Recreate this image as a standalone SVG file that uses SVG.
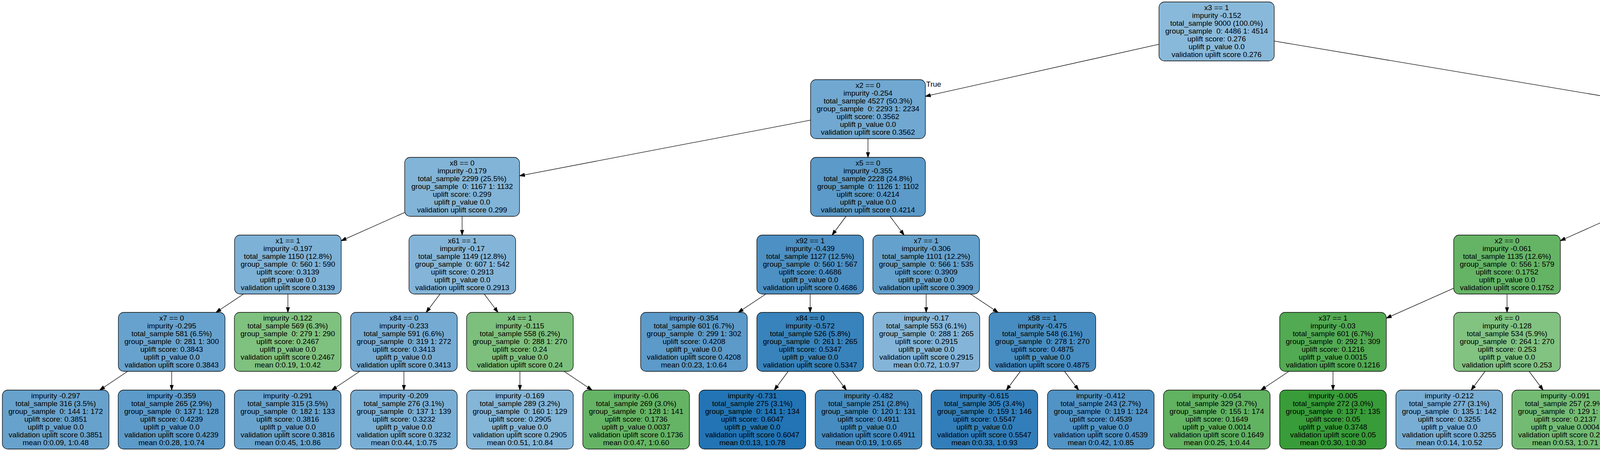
<svg xmlns="http://www.w3.org/2000/svg" width="6683" height="1155" viewBox="0 0 6683 1155" xml:space="preserve">
<defs>
<marker id="arr" markerUnits="userSpaceOnUse" markerWidth="14" markerHeight="10" viewBox="0 0 14 10" refX="13.5" refY="5" orient="auto"><path d="M0,0.3 L14,5 L0,9.7 Z" fill="#000" stroke="#000" stroke-width="1"/></marker>
</defs>
<style>
.node rect{stroke:#000;stroke-width:1.3}
text{font-family:"Liberation Sans",Arial,Helvetica,sans-serif;font-size:19px;fill:#000;white-space:pre}
.node text{text-anchor:middle}
#edges line{stroke:#000;stroke-width:1.3;marker-end:url(#arr)}
</style>
<rect width="6683" height="1155" fill="#fff"/>
<g id="edges">
<line x1="2967" y1="113.4" x2="2369" y2="246.7"/>
<line x1="3262" y1="105.2" x2="4156" y2="254.9"/>
<line x1="2075" y1="307.7" x2="1330" y2="450.3"/>
<line x1="2222" y1="355" x2="2222" y2="403"/>
<line x1="1036" y1="544.1" x2="873.5" y2="616.6"/>
<line x1="1183" y1="554" x2="1183" y2="602"/>
<line x1="2165.8" y1="554" x2="2130.2" y2="602"/>
<line x1="2278.5" y1="554" x2="2314.5" y2="602"/>
<line x1="4303" y1="355" x2="4303" y2="403"/>
<line x1="4450" y1="301.3" x2="5500" y2="456.7"/>
<line x1="4156" y1="544.2" x2="3994.5" y2="616.5"/>
<line x1="4360.3" y1="554" x2="4396.7" y2="602"/>
<line x1="5647" y1="554" x2="5647" y2="602"/>
<line x1="5794" y1="543.9" x2="5957.5" y2="616.7"/>
<line x1="623.6" y1="753" x2="552.9" y2="800"/>
<line x1="737" y1="753" x2="737" y2="800"/>
<line x1="1126.5" y1="753" x2="1091" y2="800"/>
<line x1="1239.7" y1="753" x2="1274.8" y2="800"/>
<line x1="1960.6" y1="753" x2="1889.9" y2="800"/>
<line x1="2074" y1="753" x2="2074" y2="800"/>
<line x1="2371" y1="753" x2="2371" y2="800"/>
<line x1="2484.4" y1="753" x2="2555.1" y2="800"/>
<line x1="3721.5" y1="738.2" x2="3549" y2="814.8"/>
<line x1="3858" y1="753" x2="3858" y2="800"/>
<line x1="4454" y1="753" x2="4454" y2="800"/>
<line x1="4590.5" y1="738.2" x2="4763" y2="814.8"/>
<line x1="5591" y1="753" x2="5556" y2="800"/>
<line x1="5704" y1="753" x2="5739.5" y2="800"/>
<line x1="6094" y1="753" x2="6094" y2="800"/>
<line x1="6207" y1="753" x2="6277.5" y2="800"/>
<line x1="326.8" y1="951" x2="255.2" y2="999"/>
<line x1="439.5" y1="951" x2="439.5" y2="999"/>
<line x1="921.1" y1="951" x2="849.4" y2="999"/>
<line x1="1034" y1="951" x2="1034" y2="999"/>
<line x1="1331" y1="951" x2="1331" y2="999"/>
<line x1="1443.9" y1="951" x2="1515.6" y2="999"/>
<line x1="2017.8" y1="951" x2="1982.2" y2="999"/>
<line x1="2130.7" y1="951" x2="2166.8" y2="999"/>
<line x1="2612.2" y1="951" x2="2576.3" y2="999"/>
<line x1="2725.2" y1="951" x2="2761.3" y2="999"/>
<line x1="3299.6" y1="951" x2="3227.9" y2="999"/>
<line x1="3412.5" y1="951" x2="3412.5" y2="999"/>
<line x1="3801.8" y1="951" x2="3766.2" y2="999"/>
<line x1="3914.5" y1="951" x2="3950.5" y2="999"/>
<line x1="4397.1" y1="951" x2="4360.9" y2="999"/>
<line x1="4510" y1="951" x2="4545.5" y2="999"/>
<line x1="4899.5" y1="951" x2="4899.5" y2="999"/>
<line x1="5013.5" y1="951" x2="5086" y2="999"/>
<line x1="5500" y1="951" x2="5500" y2="999"/>
<line x1="5612.5" y1="951" x2="5684" y2="999"/>
<line x1="6334.3" y1="951" x2="6298.7" y2="999"/>
<line x1="6447.2" y1="951" x2="6483.3" y2="999"/>
<text x="2371" y="222">True</text>
<text x="4154" y="232" text-anchor="end">False</text>
</g>
<g id="n0" class="node"><rect x="2967" y="5" width="295" height="151" rx="14" fill="#89b9da"/><text y="26"><tspan x="3114.5">x3 == 1</tspan><tspan x="3114.5" dy="20">impurity -0.152</tspan><tspan x="3114.5" dy="20">total_sample 9000 (100.0%)</tspan><tspan x="3114.5" dy="20">group_sample  0: 4486 1: 4514</tspan><tspan x="3114.5" dy="20">uplift score: 0.276</tspan><tspan x="3114.5" dy="20">uplift p_value 0.0</tspan><tspan x="3114.5" dy="20">validation uplift score 0.276</tspan></text></g>
<g id="n1" class="node"><rect x="2075" y="204" width="294" height="151" rx="14" fill="#70a8d1"/><text y="225"><tspan x="2222">x2 == 0</tspan><tspan x="2222" dy="20">impurity -0.254</tspan><tspan x="2222" dy="20">total_sample 4527 (50.3%)</tspan><tspan x="2222" dy="20">group_sample  0: 2293 1: 2234</tspan><tspan x="2222" dy="20">uplift score: 0.3562</tspan><tspan x="2222" dy="20">uplift p_value 0.0</tspan><tspan x="2222" dy="20">validation uplift score 0.3562</tspan></text></g>
<g id="n2" class="node"><rect x="4156" y="204" width="294" height="151" rx="14" fill="#6eb86e"/><text y="225"><tspan x="4303">x4 == 0</tspan><tspan x="4303" dy="20">impurity -0.079</tspan><tspan x="4303" dy="20">total_sample 4473 (49.7%)</tspan><tspan x="4303" dy="20">group_sample  0: 2193 1: 2280</tspan><tspan x="4303" dy="20">uplift score: 0.1986</tspan><tspan x="4303" dy="20">uplift p_value 0.0</tspan><tspan x="4303" dy="20">validation uplift score 0.1986</tspan></text></g>
<g id="n3" class="node"><rect x="1036" y="403" width="294" height="151" rx="14" fill="#82b4d7"/><text y="424"><tspan x="1183">x8 == 0</tspan><tspan x="1183" dy="20">impurity -0.179</tspan><tspan x="1183" dy="20">total_sample 2299 (25.5%)</tspan><tspan x="1183" dy="20">group_sample  0: 1167 1: 1132</tspan><tspan x="1183" dy="20">uplift score: 0.299</tspan><tspan x="1183" dy="20">uplift p_value 0.0</tspan><tspan x="1183" dy="20">validation uplift score 0.299</tspan></text></g>
<g id="n4" class="node"><rect x="2075" y="403" width="294" height="151" rx="14" fill="#5b9ac9"/><text y="424"><tspan x="2222">x5 == 0</tspan><tspan x="2222" dy="20">impurity -0.355</tspan><tspan x="2222" dy="20">total_sample 2228 (24.8%)</tspan><tspan x="2222" dy="20">group_sample  0: 1126 1: 1102</tspan><tspan x="2222" dy="20">uplift score: 0.4214</tspan><tspan x="2222" dy="20">uplift p_value 0.0</tspan><tspan x="2222" dy="20">validation uplift score 0.4214</tspan></text></g>
<g id="n5" class="node"><rect x="4156" y="403" width="294" height="151" rx="14" fill="#4da74d"/><text y="424"><tspan x="4303">x1 == 1</tspan><tspan x="4303" dy="20">impurity -0.024</tspan><tspan x="4303" dy="20">total_sample 2245 (24.9%)</tspan><tspan x="4303" dy="20">group_sample  0: 1086 1: 1159</tspan><tspan x="4303" dy="20">uplift score: 0.1085</tspan><tspan x="4303" dy="20">uplift p_value 0.0</tspan><tspan x="4303" dy="20">validation uplift score 0.1085</tspan></text></g>
<g id="n6" class="node"><rect x="5500" y="403" width="294" height="151" rx="14" fill="#86b7d9"/><text y="424"><tspan x="5647">x7 == 0</tspan><tspan x="5647" dy="20">impurity -0.164</tspan><tspan x="5647" dy="20">total_sample 2228 (24.8%)</tspan><tspan x="5647" dy="20">group_sample  0: 1107 1: 1121</tspan><tspan x="5647" dy="20">uplift score: 0.2861</tspan><tspan x="5647" dy="20">uplift p_value 0.0</tspan><tspan x="5647" dy="20">validation uplift score 0.2861</tspan></text></g>
<g id="n7" class="node"><rect x="600.5" y="602" width="273" height="151" rx="14" fill="#7db1d6"/><text y="623"><tspan x="737">x1 == 1</tspan><tspan x="737" dy="20">impurity -0.197</tspan><tspan x="737" dy="20">total_sample 1150 (12.8%)</tspan><tspan x="737" dy="20">group_sample  0: 560 1: 590</tspan><tspan x="737" dy="20">uplift score: 0.3139</tspan><tspan x="737" dy="20">uplift p_value 0.0</tspan><tspan x="737" dy="20">validation uplift score 0.3139</tspan></text></g>
<g id="n8" class="node"><rect x="1047" y="602" width="273" height="151" rx="14" fill="#84b5d8"/><text y="623"><tspan x="1183.5">x61 == 1</tspan><tspan x="1183.5" dy="20">impurity -0.17</tspan><tspan x="1183.5" dy="20">total_sample 1149 (12.8%)</tspan><tspan x="1183.5" dy="20">group_sample  0: 607 1: 542</tspan><tspan x="1183.5" dy="20">uplift score: 0.2913</tspan><tspan x="1183.5" dy="20">uplift p_value 0.0</tspan><tspan x="1183.5" dy="20">validation uplift score 0.2913</tspan></text></g>
<g id="n9" class="node"><rect x="1937.5" y="602" width="273" height="151" rx="14" fill="#4d90c4"/><text y="623"><tspan x="2074">x92 == 1</tspan><tspan x="2074" dy="20">impurity -0.439</tspan><tspan x="2074" dy="20">total_sample 1127 (12.5%)</tspan><tspan x="2074" dy="20">group_sample  0: 560 1: 567</tspan><tspan x="2074" dy="20">uplift score: 0.4686</tspan><tspan x="2074" dy="20">uplift p_value 0.0</tspan><tspan x="2074" dy="20">validation uplift score 0.4686</tspan></text></g>
<g id="n10" class="node"><rect x="2234.5" y="602" width="273" height="151" rx="14" fill="#65a1cd"/><text y="623"><tspan x="2371">x7 == 1</tspan><tspan x="2371" dy="20">impurity -0.306</tspan><tspan x="2371" dy="20">total_sample 1101 (12.2%)</tspan><tspan x="2371" dy="20">group_sample  0: 566 1: 535</tspan><tspan x="2371" dy="20">uplift score: 0.3909</tspan><tspan x="2371" dy="20">uplift p_value 0.0</tspan><tspan x="2371" dy="20">validation uplift score 0.3909</tspan></text></g>
<g id="n11" class="node"><rect x="3721.5" y="602" width="273" height="151" rx="14" fill="#65b465"/><text y="623"><tspan x="3858">x2 == 0</tspan><tspan x="3858" dy="20">impurity -0.061</tspan><tspan x="3858" dy="20">total_sample 1135 (12.6%)</tspan><tspan x="3858" dy="20">group_sample  0: 556 1: 579</tspan><tspan x="3858" dy="20">uplift score: 0.1752</tspan><tspan x="3858" dy="20">uplift p_value 0.0</tspan><tspan x="3858" dy="20">validation uplift score 0.1752</tspan></text></g>
<g id="n12" class="node"><rect x="4317.5" y="602" width="273" height="151" rx="14" fill="#329932"/><text y="623"><tspan x="4454">x22 == 1</tspan><tspan x="4454" dy="20">impurity -0.002</tspan><tspan x="4454" dy="20">total_sample 1110 (12.3%)</tspan><tspan x="4454" dy="20">group_sample  0: 530 1: 580</tspan><tspan x="4454" dy="20">uplift score: 0.0291</tspan><tspan x="4454" dy="20">uplift p_value 0.2882</tspan><tspan x="4454" dy="20">validation uplift score 0.0291</tspan></text></g>
<g id="n13" class="node"><rect x="5510.5" y="602" width="273" height="151" rx="14" fill="#83b4d8"/><text y="623"><tspan x="5647">x1 == 1</tspan><tspan x="5647" dy="20">impurity -0.176</tspan><tspan x="5647" dy="20">total_sample 1131 (12.6%)</tspan><tspan x="5647" dy="20">group_sample  0: 542 1: 589</tspan><tspan x="5647" dy="20">uplift score: 0.2967</tspan><tspan x="5647" dy="20">uplift p_value 0.0</tspan><tspan x="5647" dy="20">validation uplift score 0.2967</tspan></text></g>
<g id="n14" class="node"><rect x="5957.5" y="602" width="273" height="151" rx="14" fill="#81b3d7"/><text y="623"><tspan x="6094">x41 == 0</tspan><tspan x="6094" dy="20">impurity -0.183</tspan><tspan x="6094" dy="20">total_sample 1097 (12.2%)</tspan><tspan x="6094" dy="20">group_sample  0: 565 1: 532</tspan><tspan x="6094" dy="20">uplift score: 0.3023</tspan><tspan x="6094" dy="20">uplift p_value 0.0</tspan><tspan x="6094" dy="20">validation uplift score 0.3023</tspan></text></g>
<g id="n15" class="node"><rect x="303" y="800" width="273" height="151" rx="14" fill="#67a2ce"/><text y="821"><tspan x="439.5">x7 == 0</tspan><tspan x="439.5" dy="20">impurity -0.295</tspan><tspan x="439.5" dy="20">total_sample 581 (6.5%)</tspan><tspan x="439.5" dy="20">group_sample  0: 281 1: 300</tspan><tspan x="439.5" dy="20">uplift score: 0.3843</tspan><tspan x="439.5" dy="20">uplift p_value 0.0</tspan><tspan x="439.5" dy="20">validation uplift score 0.3843</tspan></text></g>
<g id="n16" class="node"><rect x="600" y="800" width="273" height="151" rx="14" fill="#7fc17f"/><text y="821"><tspan x="736.5">impurity -0.122</tspan><tspan x="736.5" dy="20">total_sample 569 (6.3%)</tspan><tspan x="736.5" dy="20">group_sample  0: 279 1: 290</tspan><tspan x="736.5" dy="20">uplift score: 0.2467</tspan><tspan x="736.5" dy="20">uplift p_value 0.0</tspan><tspan x="736.5" dy="20">validation uplift score 0.2467</tspan><tspan x="736.5" dy="20">mean 0:0.19, 1:0.42</tspan></text></g>
<g id="n17" class="node"><rect x="897.5" y="800" width="273" height="151" rx="14" fill="#75abd3"/><text y="821"><tspan x="1034">x84 == 0</tspan><tspan x="1034" dy="20">impurity -0.233</tspan><tspan x="1034" dy="20">total_sample 591 (6.6%)</tspan><tspan x="1034" dy="20">group_sample  0: 319 1: 272</tspan><tspan x="1034" dy="20">uplift score: 0.3413</tspan><tspan x="1034" dy="20">uplift p_value 0.0</tspan><tspan x="1034" dy="20">validation uplift score 0.3413</tspan></text></g>
<g id="n18" class="node"><rect x="1194.5" y="800" width="273" height="151" rx="14" fill="#7dc07d"/><text y="821"><tspan x="1331">x4 == 1</tspan><tspan x="1331" dy="20">impurity -0.115</tspan><tspan x="1331" dy="20">total_sample 558 (6.2%)</tspan><tspan x="1331" dy="20">group_sample  0: 288 1: 270</tspan><tspan x="1331" dy="20">uplift score: 0.24</tspan><tspan x="1331" dy="20">uplift p_value 0.0</tspan><tspan x="1331" dy="20">validation uplift score 0.24</tspan></text></g>
<g id="n19" class="node"><rect x="1640" y="800" width="273" height="151" rx="14" fill="#5c9ac9"/><text y="821"><tspan x="1776.5">impurity -0.354</tspan><tspan x="1776.5" dy="20">total_sample 601 (6.7%)</tspan><tspan x="1776.5" dy="20">group_sample  0: 299 1: 302</tspan><tspan x="1776.5" dy="20">uplift score: 0.4208</tspan><tspan x="1776.5" dy="20">uplift p_value 0.0</tspan><tspan x="1776.5" dy="20">validation uplift score 0.4208</tspan><tspan x="1776.5" dy="20">mean 0:0.23, 1:0.64</tspan></text></g>
<g id="n20" class="node"><rect x="1937.5" y="800" width="273" height="151" rx="14" fill="#3883bc"/><text y="821"><tspan x="2074">x84 == 0</tspan><tspan x="2074" dy="20">impurity -0.572</tspan><tspan x="2074" dy="20">total_sample 526 (5.8%)</tspan><tspan x="2074" dy="20">group_sample  0: 261 1: 265</tspan><tspan x="2074" dy="20">uplift score: 0.5347</tspan><tspan x="2074" dy="20">uplift p_value 0.0</tspan><tspan x="2074" dy="20">validation uplift score 0.5347</tspan></text></g>
<g id="n21" class="node"><rect x="2235" y="800" width="273" height="151" rx="14" fill="#84b5d8"/><text y="821"><tspan x="2371.5">impurity -0.17</tspan><tspan x="2371.5" dy="20">total_sample 553 (6.1%)</tspan><tspan x="2371.5" dy="20">group_sample  0: 288 1: 265</tspan><tspan x="2371.5" dy="20">uplift score: 0.2915</tspan><tspan x="2371.5" dy="20">uplift p_value 0.0</tspan><tspan x="2371.5" dy="20">validation uplift score 0.2915</tspan><tspan x="2371.5" dy="20">mean 0:0.72, 1:0.97</tspan></text></g>
<g id="n22" class="node"><rect x="2532" y="800" width="273" height="151" rx="14" fill="#478dc2"/><text y="821"><tspan x="2668.5">x58 == 1</tspan><tspan x="2668.5" dy="20">impurity -0.475</tspan><tspan x="2668.5" dy="20">total_sample 548 (6.1%)</tspan><tspan x="2668.5" dy="20">group_sample  0: 278 1: 270</tspan><tspan x="2668.5" dy="20">uplift score: 0.4875</tspan><tspan x="2668.5" dy="20">uplift p_value 0.0</tspan><tspan x="2668.5" dy="20">validation uplift score 0.4875</tspan></text></g>
<g id="n23" class="node"><rect x="3276" y="800" width="273" height="151" rx="14" fill="#52aa52"/><text y="821"><tspan x="3412.5">x37 == 1</tspan><tspan x="3412.5" dy="20">impurity -0.03</tspan><tspan x="3412.5" dy="20">total_sample 601 (6.7%)</tspan><tspan x="3412.5" dy="20">group_sample  0: 292 1: 309</tspan><tspan x="3412.5" dy="20">uplift score: 0.1216</tspan><tspan x="3412.5" dy="20">uplift p_value 0.0015</tspan><tspan x="3412.5" dy="20">validation uplift score 0.1216</tspan></text></g>
<g id="n24" class="node"><rect x="3721.5" y="800" width="273" height="151" rx="14" fill="#82c382"/><text y="821"><tspan x="3858">x6 == 0</tspan><tspan x="3858" dy="20">impurity -0.128</tspan><tspan x="3858" dy="20">total_sample 534 (5.9%)</tspan><tspan x="3858" dy="20">group_sample  0: 264 1: 270</tspan><tspan x="3858" dy="20">uplift score: 0.253</tspan><tspan x="3858" dy="20">uplift p_value 0.0</tspan><tspan x="3858" dy="20">validation uplift score 0.253</tspan></text></g>
<g id="n25" class="node"><rect x="4317.5" y="800" width="273" height="151" rx="14" fill="#40a040"/><text y="821"><tspan x="4454">x50 == 0</tspan><tspan x="4454" dy="20">impurity -0.011</tspan><tspan x="4454" dy="20">total_sample 557 (6.2%)</tspan><tspan x="4454" dy="20">group_sample  0: 267 1: 290</tspan><tspan x="4454" dy="20">uplift score: 0.0729</tspan><tspan x="4454" dy="20">uplift p_value 0.0526</tspan><tspan x="4454" dy="20">validation uplift score 0.0729</tspan></text></g>
<g id="n26" class="node"><rect x="4763" y="800" width="273" height="151" rx="14" fill="#198c19"/><text y="821"><tspan x="4899.5">x5 == 0</tspan><tspan x="4899.5" dy="20">impurity -0.003</tspan><tspan x="4899.5" dy="20">total_sample 553 (6.1%)</tspan><tspan x="4899.5" dy="20">group_sample  0: 263 1: 290</tspan><tspan x="4899.5" dy="20">uplift score: -0.0354</tspan><tspan x="4899.5" dy="20">uplift p_value 0.3667</tspan><tspan x="4899.5" dy="20">validation uplift score -0.0354</tspan></text></g>
<g id="n27" class="node"><rect x="5363.5" y="800" width="273" height="151" rx="14" fill="#6ba5cf"/><text y="821"><tspan x="5500">x39 == 0</tspan><tspan x="5500" dy="20">impurity -0.275</tspan><tspan x="5500" dy="20">total_sample 566 (6.3%)</tspan><tspan x="5500" dy="20">group_sample  0: 281 1: 285</tspan><tspan x="5500" dy="20">uplift score: 0.3708</tspan><tspan x="5500" dy="20">uplift p_value 0.0</tspan><tspan x="5500" dy="20">validation uplift score 0.3708</tspan></text></g>
<g id="n28" class="node"><rect x="5660" y="800" width="273" height="151" rx="14" fill="#7abf7a"/><text y="821"><tspan x="5796.5">impurity -0.109</tspan><tspan x="5796.5" dy="20">total_sample 565 (6.3%)</tspan><tspan x="5796.5" dy="20">group_sample  0: 261 1: 304</tspan><tspan x="5796.5" dy="20">uplift score: 0.2338</tspan><tspan x="5796.5" dy="20">uplift p_value 0.0</tspan><tspan x="5796.5" dy="20">validation uplift score 0.2338</tspan><tspan x="5796.5" dy="20">mean 0:0.15, 1:0.37</tspan></text></g>
<g id="n29" class="node"><rect x="5957" y="800" width="273" height="151" rx="14" fill="#79be79"/><text y="821"><tspan x="6093.5">impurity -0.106</tspan><tspan x="6093.5" dy="20">total_sample 551 (6.1%)</tspan><tspan x="6093.5" dy="20">group_sample  0: 284 1: 267</tspan><tspan x="6093.5" dy="20">uplift score: 0.2307</tspan><tspan x="6093.5" dy="20">uplift p_value 0.0</tspan><tspan x="6093.5" dy="20">validation uplift score 0.2307</tspan><tspan x="6093.5" dy="20">mean 0:0.52, 1:0.72</tspan></text></g>
<g id="n30" class="node"><rect x="6254" y="800" width="273" height="151" rx="14" fill="#68a3ce"/><text y="821"><tspan x="6390.5">x26 == 1</tspan><tspan x="6390.5" dy="20">impurity -0.289</tspan><tspan x="6390.5" dy="20">total_sample 546 (6.1%)</tspan><tspan x="6390.5" dy="20">group_sample  0: 281 1: 265</tspan><tspan x="6390.5" dy="20">uplift score: 0.3801</tspan><tspan x="6390.5" dy="20">uplift p_value 0.0</tspan><tspan x="6390.5" dy="20">validation uplift score 0.3801</tspan></text></g>
<g id="n31" class="node"><rect x="6" y="999" width="273" height="151" rx="14" fill="#67a2cd"/><text y="1020"><tspan x="142.5">impurity -0.297</tspan><tspan x="142.5" dy="20">total_sample 316 (3.5%)</tspan><tspan x="142.5" dy="20">group_sample  0: 144 1: 172</tspan><tspan x="142.5" dy="20">uplift score: 0.3851</tspan><tspan x="142.5" dy="20">uplift p_value 0.0</tspan><tspan x="142.5" dy="20">validation uplift score 0.3851</tspan><tspan x="142.5" dy="20">mean 0:0.09, 1:0.48</tspan></text></g>
<g id="n32" class="node"><rect x="302.5" y="999" width="273" height="151" rx="14" fill="#5b9ac9"/><text y="1020"><tspan x="439">impurity -0.359</tspan><tspan x="439" dy="20">total_sample 265 (2.9%)</tspan><tspan x="439" dy="20">group_sample  0: 137 1: 128</tspan><tspan x="439" dy="20">uplift score: 0.4239</tspan><tspan x="439" dy="20">uplift p_value 0.0</tspan><tspan x="439" dy="20">validation uplift score 0.4239</tspan><tspan x="439" dy="20">mean 0:0.28, 1:0.74</tspan></text></g>
<g id="n33" class="node"><rect x="600" y="999" width="273" height="151" rx="14" fill="#68a3ce"/><text y="1020"><tspan x="736.5">impurity -0.291</tspan><tspan x="736.5" dy="20">total_sample 315 (3.5%)</tspan><tspan x="736.5" dy="20">group_sample  0: 182 1: 133</tspan><tspan x="736.5" dy="20">uplift score: 0.3816</tspan><tspan x="736.5" dy="20">uplift p_value 0.0</tspan><tspan x="736.5" dy="20">validation uplift score 0.3816</tspan><tspan x="736.5" dy="20">mean 0:0.45, 1:0.86</tspan></text></g>
<g id="n34" class="node"><rect x="897.5" y="999" width="273" height="151" rx="14" fill="#7aafd5"/><text y="1020"><tspan x="1034">impurity -0.209</tspan><tspan x="1034" dy="20">total_sample 276 (3.1%)</tspan><tspan x="1034" dy="20">group_sample  0: 137 1: 139</tspan><tspan x="1034" dy="20">uplift score: 0.3232</tspan><tspan x="1034" dy="20">uplift p_value 0.0</tspan><tspan x="1034" dy="20">validation uplift score 0.3232</tspan><tspan x="1034" dy="20">mean 0:0.44, 1:0.75</tspan></text></g>
<g id="n35" class="node"><rect x="1194.5" y="999" width="273" height="151" rx="14" fill="#84b6d8"/><text y="1020"><tspan x="1331">impurity -0.169</tspan><tspan x="1331" dy="20">total_sample 289 (3.2%)</tspan><tspan x="1331" dy="20">group_sample  0: 160 1: 129</tspan><tspan x="1331" dy="20">uplift score: 0.2905</tspan><tspan x="1331" dy="20">uplift p_value 0.0</tspan><tspan x="1331" dy="20">validation uplift score 0.2905</tspan><tspan x="1331" dy="20">mean 0:0.51, 1:0.84</tspan></text></g>
<g id="n36" class="node"><rect x="1492" y="999" width="273" height="151" rx="14" fill="#65b465"/><text y="1020"><tspan x="1628.5">impurity -0.06</tspan><tspan x="1628.5" dy="20">total_sample 269 (3.0%)</tspan><tspan x="1628.5" dy="20">group_sample  0: 128 1: 141</tspan><tspan x="1628.5" dy="20">uplift score: 0.1736</tspan><tspan x="1628.5" dy="20">uplift p_value 0.0037</tspan><tspan x="1628.5" dy="20">validation uplift score 0.1736</tspan><tspan x="1628.5" dy="20">mean 0:0.47, 1:0.60</tspan></text></g>
<g id="n37" class="node"><rect x="1789.5" y="999" width="273" height="151" rx="14" fill="#2274b4"/><text y="1020"><tspan x="1926">impurity -0.731</tspan><tspan x="1926" dy="20">total_sample 275 (3.1%)</tspan><tspan x="1926" dy="20">group_sample  0: 141 1: 134</tspan><tspan x="1926" dy="20">uplift score: 0.6047</tspan><tspan x="1926" dy="20">uplift p_value 0.0</tspan><tspan x="1926" dy="20">validation uplift score 0.6047</tspan><tspan x="1926" dy="20">mean 0:0.13, 1:0.78</tspan></text></g>
<g id="n38" class="node"><rect x="2087" y="999" width="273" height="151" rx="14" fill="#468cc1"/><text y="1020"><tspan x="2223.5">impurity -0.482</tspan><tspan x="2223.5" dy="20">total_sample 251 (2.8%)</tspan><tspan x="2223.5" dy="20">group_sample  0: 120 1: 131</tspan><tspan x="2223.5" dy="20">uplift score: 0.4911</tspan><tspan x="2223.5" dy="20">uplift p_value 0.0</tspan><tspan x="2223.5" dy="20">validation uplift score 0.4911</tspan><tspan x="2223.5" dy="20">mean 0:0.19, 1:0.65</tspan></text></g>
<g id="n39" class="node"><rect x="2383.5" y="999" width="273" height="151" rx="14" fill="#327eba"/><text y="1020"><tspan x="2520">impurity -0.615</tspan><tspan x="2520" dy="20">total_sample 305 (3.4%)</tspan><tspan x="2520" dy="20">group_sample  0: 159 1: 146</tspan><tspan x="2520" dy="20">uplift score: 0.5547</tspan><tspan x="2520" dy="20">uplift p_value 0.0</tspan><tspan x="2520" dy="20">validation uplift score 0.5547</tspan><tspan x="2520" dy="20">mean 0:0.33, 1:0.93</tspan></text></g>
<g id="n40" class="node"><rect x="2681.5" y="999" width="273" height="151" rx="14" fill="#5193c5"/><text y="1020"><tspan x="2818">impurity -0.412</tspan><tspan x="2818" dy="20">total_sample 243 (2.7%)</tspan><tspan x="2818" dy="20">group_sample  0: 119 1: 124</tspan><tspan x="2818" dy="20">uplift score: 0.4539</tspan><tspan x="2818" dy="20">uplift p_value 0.0</tspan><tspan x="2818" dy="20">validation uplift score 0.4539</tspan><tspan x="2818" dy="20">mean 0:0.42, 1:0.85</tspan></text></g>
<g id="n41" class="node"><rect x="2978.5" y="999" width="273" height="151" rx="14" fill="#61b261"/><text y="1020"><tspan x="3115">impurity -0.054</tspan><tspan x="3115" dy="20">total_sample 329 (3.7%)</tspan><tspan x="3115" dy="20">group_sample  0: 155 1: 174</tspan><tspan x="3115" dy="20">uplift score: 0.1649</tspan><tspan x="3115" dy="20">uplift p_value 0.0014</tspan><tspan x="3115" dy="20">validation uplift score 0.1649</tspan><tspan x="3115" dy="20">mean 0:0.25, 1:0.44</tspan></text></g>
<g id="n42" class="node"><rect x="3276" y="999" width="273" height="151" rx="14" fill="#389c38"/><text y="1020"><tspan x="3412.5">impurity -0.005</tspan><tspan x="3412.5" dy="20">total_sample 272 (3.0%)</tspan><tspan x="3412.5" dy="20">group_sample  0: 137 1: 135</tspan><tspan x="3412.5" dy="20">uplift score: 0.05</tspan><tspan x="3412.5" dy="20">uplift p_value 0.3748</tspan><tspan x="3412.5" dy="20">validation uplift score 0.05</tspan><tspan x="3412.5" dy="20">mean 0:0.30, 1:0.30</tspan></text></g>
<g id="n43" class="node"><rect x="3573.5" y="999" width="273" height="151" rx="14" fill="#79aed4"/><text y="1020"><tspan x="3710">impurity -0.212</tspan><tspan x="3710" dy="20">total_sample 277 (3.1%)</tspan><tspan x="3710" dy="20">group_sample  0: 135 1: 142</tspan><tspan x="3710" dy="20">uplift score: 0.3255</tspan><tspan x="3710" dy="20">uplift p_value 0.0</tspan><tspan x="3710" dy="20">validation uplift score 0.3255</tspan><tspan x="3710" dy="20">mean 0:0.14, 1:0.52</tspan></text></g>
<g id="n44" class="node"><rect x="3870.5" y="999" width="273" height="151" rx="14" fill="#73bb73"/><text y="1020"><tspan x="4007">impurity -0.091</tspan><tspan x="4007" dy="20">total_sample 257 (2.9%)</tspan><tspan x="4007" dy="20">group_sample  0: 129 1: 128</tspan><tspan x="4007" dy="20">uplift score: 0.2137</tspan><tspan x="4007" dy="20">uplift p_value 0.0004</tspan><tspan x="4007" dy="20">validation uplift score 0.2137</tspan><tspan x="4007" dy="20">mean 0:0.53, 1:0.71</tspan></text></g>
<g id="n45" class="node"><rect x="4167.5" y="999" width="273" height="151" rx="14" fill="#2d962d"/><text y="1020"><tspan x="4304">impurity -0.001</tspan><tspan x="4304" dy="20">total_sample 281 (3.1%)</tspan><tspan x="4304" dy="20">group_sample  0: 127 1: 154</tspan><tspan x="4304" dy="20">uplift score: 0.0179</tspan><tspan x="4304" dy="20">uplift p_value 0.7329</tspan><tspan x="4304" dy="20">validation uplift score 0.0179</tspan><tspan x="4304" dy="20">mean 0:0.26, 1:0.24</tspan></text></g>
<g id="n46" class="node"><rect x="4465" y="999" width="273" height="151" rx="14" fill="#5aae5a"/><text y="1020"><tspan x="4601.5">impurity -0.044</tspan><tspan x="4601.5" dy="20">total_sample 276 (3.1%)</tspan><tspan x="4601.5" dy="20">group_sample  0: 140 1: 136</tspan><tspan x="4601.5" dy="20">uplift score: 0.1488</tspan><tspan x="4601.5" dy="20">uplift p_value 0.0054</tspan><tspan x="4601.5" dy="20">validation uplift score 0.1488</tspan><tspan x="4601.5" dy="20">mean 0:0.19, 1:0.39</tspan></text></g>
<g id="n47" class="node"><rect x="4763" y="999" width="273" height="151" rx="14" fill="#279427"/><text y="1020"><tspan x="4899.5">impurity -0.0</tspan><tspan x="4899.5" dy="20">total_sample 280 (3.1%)</tspan><tspan x="4899.5" dy="20">group_sample  0: 133 1: 147</tspan><tspan x="4899.5" dy="20">uplift score: 0.0049</tspan><tspan x="4899.5" dy="20">uplift p_value 0.9237</tspan><tspan x="4899.5" dy="20">validation uplift score 0.0049</tspan><tspan x="4899.5" dy="20">mean 0:0.17, 1:0.20</tspan></text></g>
<g id="n48" class="node"><rect x="5061" y="999" width="278" height="151" rx="14" fill="#007f00"/><text y="1020"><tspan x="5200">impurity -0.021</tspan><tspan x="5200" dy="20">total_sample 273 (3.0%)</tspan><tspan x="5200" dy="20">group_sample  0: 130 1: 143</tspan><tspan x="5200" dy="20">uplift score: -0.1035</tspan><tspan x="5200" dy="20">uplift p_value 0.0771</tspan><tspan x="5200" dy="20">validation uplift score -0.1035</tspan><tspan x="5200" dy="20">mean 0:0.52, 1:0.36</tspan></text></g>
<g id="n49" class="node"><rect x="5363" y="999" width="273" height="151" rx="14" fill="#7cb0d5"/><text y="1020"><tspan x="5499.5">impurity -0.203</tspan><tspan x="5499.5" dy="20">total_sample 293 (3.3%)</tspan><tspan x="5499.5" dy="20">group_sample  0: 147 1: 146</tspan><tspan x="5499.5" dy="20">uplift score: 0.3185</tspan><tspan x="5499.5" dy="20">uplift p_value 0.0</tspan><tspan x="5499.5" dy="20">validation uplift score 0.3185</tspan><tspan x="5499.5" dy="20">mean 0:0.30, 1:0.58</tspan></text></g>
<g id="n50" class="node"><rect x="5660" y="999" width="273" height="151" rx="14" fill="#5093c5"/><text y="1020"><tspan x="5796.5">impurity -0.417</tspan><tspan x="5796.5" dy="20">total_sample 273 (3.0%)</tspan><tspan x="5796.5" dy="20">group_sample  0: 134 1: 139</tspan><tspan x="5796.5" dy="20">uplift score: 0.4564</tspan><tspan x="5796.5" dy="20">uplift p_value 0.0</tspan><tspan x="5796.5" dy="20">validation uplift score 0.4564</tspan><tspan x="5796.5" dy="20">mean 0:0.17, 1:0.69</tspan></text></g>
<g id="n51" class="node"><rect x="6106" y="999" width="273" height="151" rx="14" fill="#79aed4"/><text y="1020"><tspan x="6242.5">impurity -0.212</tspan><tspan x="6242.5" dy="20">total_sample 274 (3.0%)</tspan><tspan x="6242.5" dy="20">group_sample  0: 128 1: 146</tspan><tspan x="6242.5" dy="20">uplift score: 0.3255</tspan><tspan x="6242.5" dy="20">uplift p_value 0.0</tspan><tspan x="6242.5" dy="20">validation uplift score 0.3255</tspan><tspan x="6242.5" dy="20">mean 0:0.47, 1:0.75</tspan></text></g>
<g id="n52" class="node"><rect x="6403.5" y="999" width="273" height="151" rx="14" fill="#4d91c4"/><text y="1020"><tspan x="6540">impurity -0.437</tspan><tspan x="6540" dy="20">total_sample 272 (3.0%)</tspan><tspan x="6540" dy="20">group_sample  0: 153 1: 119</tspan><tspan x="6540" dy="20">uplift score: 0.4672</tspan><tspan x="6540" dy="20">uplift p_value 0.0</tspan><tspan x="6540" dy="20">validation uplift score 0.4672</tspan><tspan x="6540" dy="20">mean 0:0.33, 1:0.87</tspan></text></g>
</svg>
